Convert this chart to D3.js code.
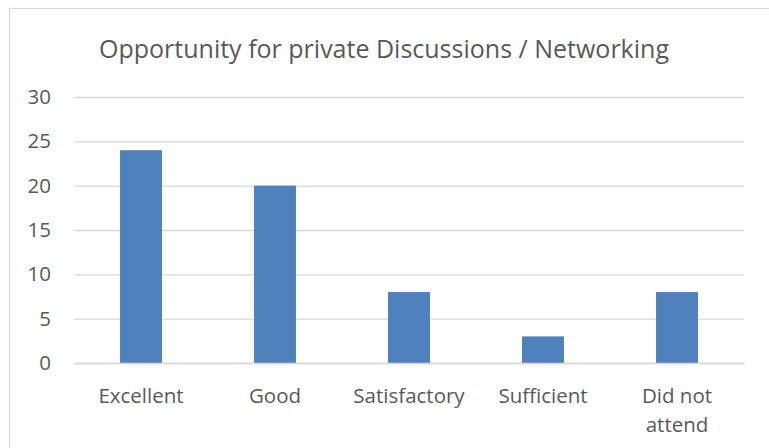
<!DOCTYPE html>
<html><head><meta charset="utf-8">
<script src="https://cdn.jsdelivr.net/npm/d3@7"></script>
<style>
html,body{margin:0;padding:0;background:#fff;}
svg{display:block;font-family:"Open Sans",sans-serif;}
</style></head>
<body><svg id="c" width="769" height="448"></svg>
<script>
const title = "Opportunity for private Discussions / Networking";
const categories = ["Excellent", "Good", "Satisfactory", "Sufficient", "Did not attend"];
const values = [24, 20, 8, 3, 8];
const yTicks = [0, 5, 10, 15, 20, 25, 30];

const svg = d3.select("#c");
const m = {left: 74, right: 25, top: 97, bottom: 85};
const W = 769, H = 448;
const fs = 20.5;

svg.append("rect").attr("x", 9.5).attr("y", 8.5).attr("width", 800).attr("height", 500)
  .attr("fill", "#fff").attr("stroke", "#d9d9d9").attr("stroke-width", 1.2);

const x = d3.scaleBand().domain(categories).range([m.left, W - m.right]).paddingInner(0.687).paddingOuter(0.3435);
const y = d3.scaleLinear().domain([0, 30]).range([H - m.bottom, m.top]);

const gy = svg.append("g").attr("transform", `translate(${m.left},0)`)
  .call(d3.axisLeft(y).tickValues(yTicks).tickSize(-(W - m.right - m.left)).tickPadding(23));
gy.select(".domain").remove();
gy.selectAll(".tick line").attr("stroke", "#d9d9d9").attr("stroke-width", 1.3);
gy.selectAll(".tick text").attr("fill", "#595959").attr("font-size", fs).attr("font-family", "'Open Sans',sans-serif");

svg.append("g").selectAll("rect").data(categories).join("rect")
  .attr("x", d => x(d)).attr("width", x.bandwidth())
  .attr("y", (d, i) => y(values[i])).attr("height", (d, i) => y(0) - y(values[i]))
  .attr("fill", "#4f81bd");

const gx = svg.append("g").attr("transform", `translate(0,${y(0)})`)
  .call(d3.axisBottom(x).tickSize(0).tickPadding(25));
gx.select(".domain").attr("stroke", "#d9d9d9").attr("stroke-width", 1.3);
gx.selectAll(".tick text").attr("fill", "#595959").attr("font-size", fs).attr("font-family", "'Open Sans',sans-serif")
  .each(function(d) {
    const t = d3.select(this);
    if (d === "Did not attend") {
      t.text(null);
      t.append("tspan").attr("x", 0).attr("dy", "0.71em").text("Did not");
      t.append("tspan").attr("x", 0).attr("dy", 29).text("attend");
      t.attr("dy", null);
    }
  });

svg.append("text").attr("x", 384).attr("y", 58).attr("text-anchor", "middle")
  .attr("fill", "#595959").attr("font-size", 25).text(title);
</script></body></html>
